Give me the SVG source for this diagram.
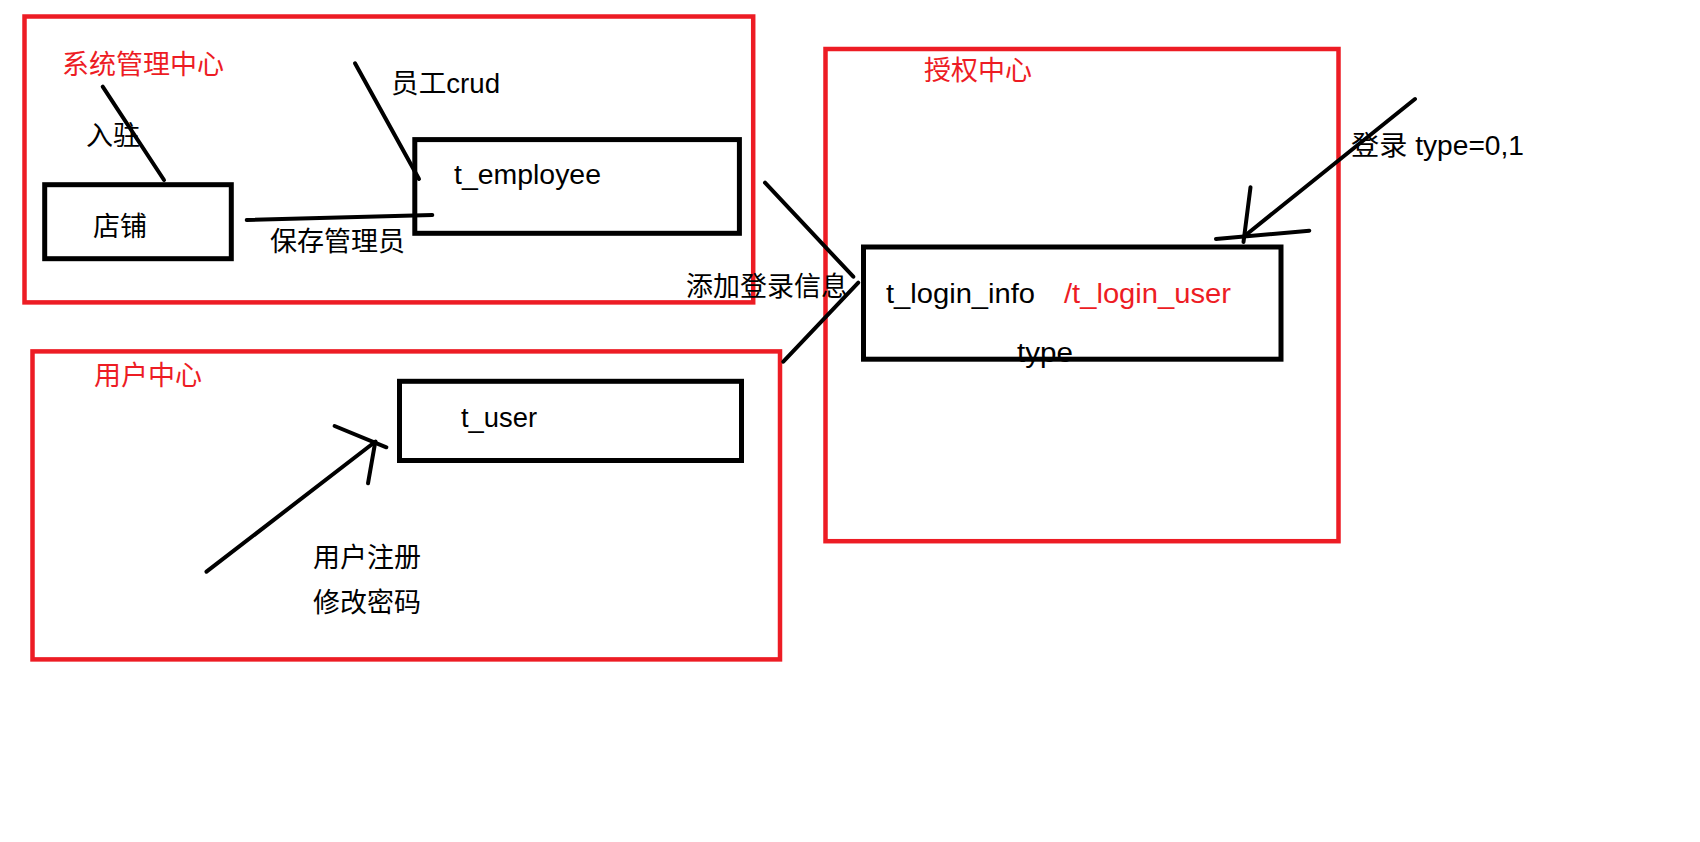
<svg xmlns="http://www.w3.org/2000/svg" width="1700" height="842" viewBox="0 0 1700 842">
<style>
.bg{fill:#ffffff}
.zone{fill:none;stroke:#ed1c24;stroke-width:4.5}
.box{fill:none;stroke:#000;stroke-width:5}
.ln{stroke:#000;stroke-width:4;stroke-linecap:round;fill:none}
.t{font-family:"Liberation Sans","Noto Sans CJK SC",sans-serif;font-size:27px;fill:#000}
.c{font-family:"Noto Sans CJK SC","Liberation Sans",sans-serif;font-size:27px;fill:#000}
.r{fill:#ed1c24}
</style>
<rect class="bg" x="0" y="0" width="1700" height="842"/>
<g id="zone-system">
<rect class="zone" x="24.5" y="16.5" width="728.7" height="285.9"/>
<text class="c r" x="62" y="74">系统管理中心</text>
</g>
<g id="zone-user">
<rect class="zone" x="32.5" y="351.4" width="747.5" height="308"/>
<text class="c r" x="94" y="385">用户中心</text>
</g>
<g id="zone-auth">
<rect class="zone" x="825.5" y="49" width="513" height="492.2"/>
<text class="c r" x="924" y="80">授权中心</text>
</g>
<g id="node-shop">
<rect class="box" x="44.7" y="184.7" width="186.6" height="74"/>
<text class="c" x="93" y="236">店铺</text>
</g>
<g id="node-employee">
<rect class="box" x="414.8" y="139.6" width="324.6" height="93.7"/>
<text class="t" x="454" y="184" textLength="147" lengthAdjust="spacingAndGlyphs">t_employee</text>
</g>
<g id="node-user">
<rect class="box" x="399.5" y="381.3" width="342" height="79.2"/>
<text class="t" x="461" y="427" textLength="76" lengthAdjust="spacingAndGlyphs">t_user</text>
</g>
<g id="node-login">
<rect class="box" x="863.5" y="247" width="417.5" height="112.2"/>
<text class="t" x="886" y="303" textLength="149" lengthAdjust="spacingAndGlyphs">t_login_info</text>
<text class="t r" x="1064" y="303" textLength="167" lengthAdjust="spacingAndGlyphs">/t_login_user</text>
</g>
<g id="connectors">
<line class="ln" x1="102.7" y1="86.7" x2="164" y2="180"/>
<line class="ln" x1="355" y1="63.3" x2="419" y2="179"/>
<line class="ln" x1="246.7" y1="220" x2="432.3" y2="215"/>
<line class="ln" x1="765" y1="182.7" x2="853.3" y2="276.7"/>
<line class="ln" x1="783.3" y1="361.7" x2="858.3" y2="282.7"/>
<line class="ln" x1="206.5" y1="571.7" x2="375.5" y2="441.5"/>
<line class="ln" x1="334.6" y1="426" x2="386.4" y2="447.3"/>
<line class="ln" x1="375" y1="443.3" x2="368" y2="483.3"/>
<line class="ln" x1="1415" y1="99" x2="1243.3" y2="237"/>
<line class="ln" x1="1250.5" y1="187.3" x2="1243.5" y2="242"/>
<line class="ln" x1="1216" y1="239" x2="1309.3" y2="230.7"/>
</g>
<g id="labels">
<text class="c" x="86" y="145">入驻</text>
<text class="t" x="391" y="93" textLength="109" lengthAdjust="spacingAndGlyphs">员工crud</text>
<text class="c" x="270" y="251">保存管理员</text>
<text class="c" x="686" y="295.5">添加登录信息</text>
<text class="c" x="313" y="567">用户注册</text>
<text class="c" x="313" y="612">修改密码</text>
<text class="t" x="1017" y="361.5" textLength="56" lengthAdjust="spacingAndGlyphs">type</text>
<text class="t" x="1351" y="155" textLength="173" lengthAdjust="spacingAndGlyphs">登录 type=0,1</text>
</g>
</svg>
